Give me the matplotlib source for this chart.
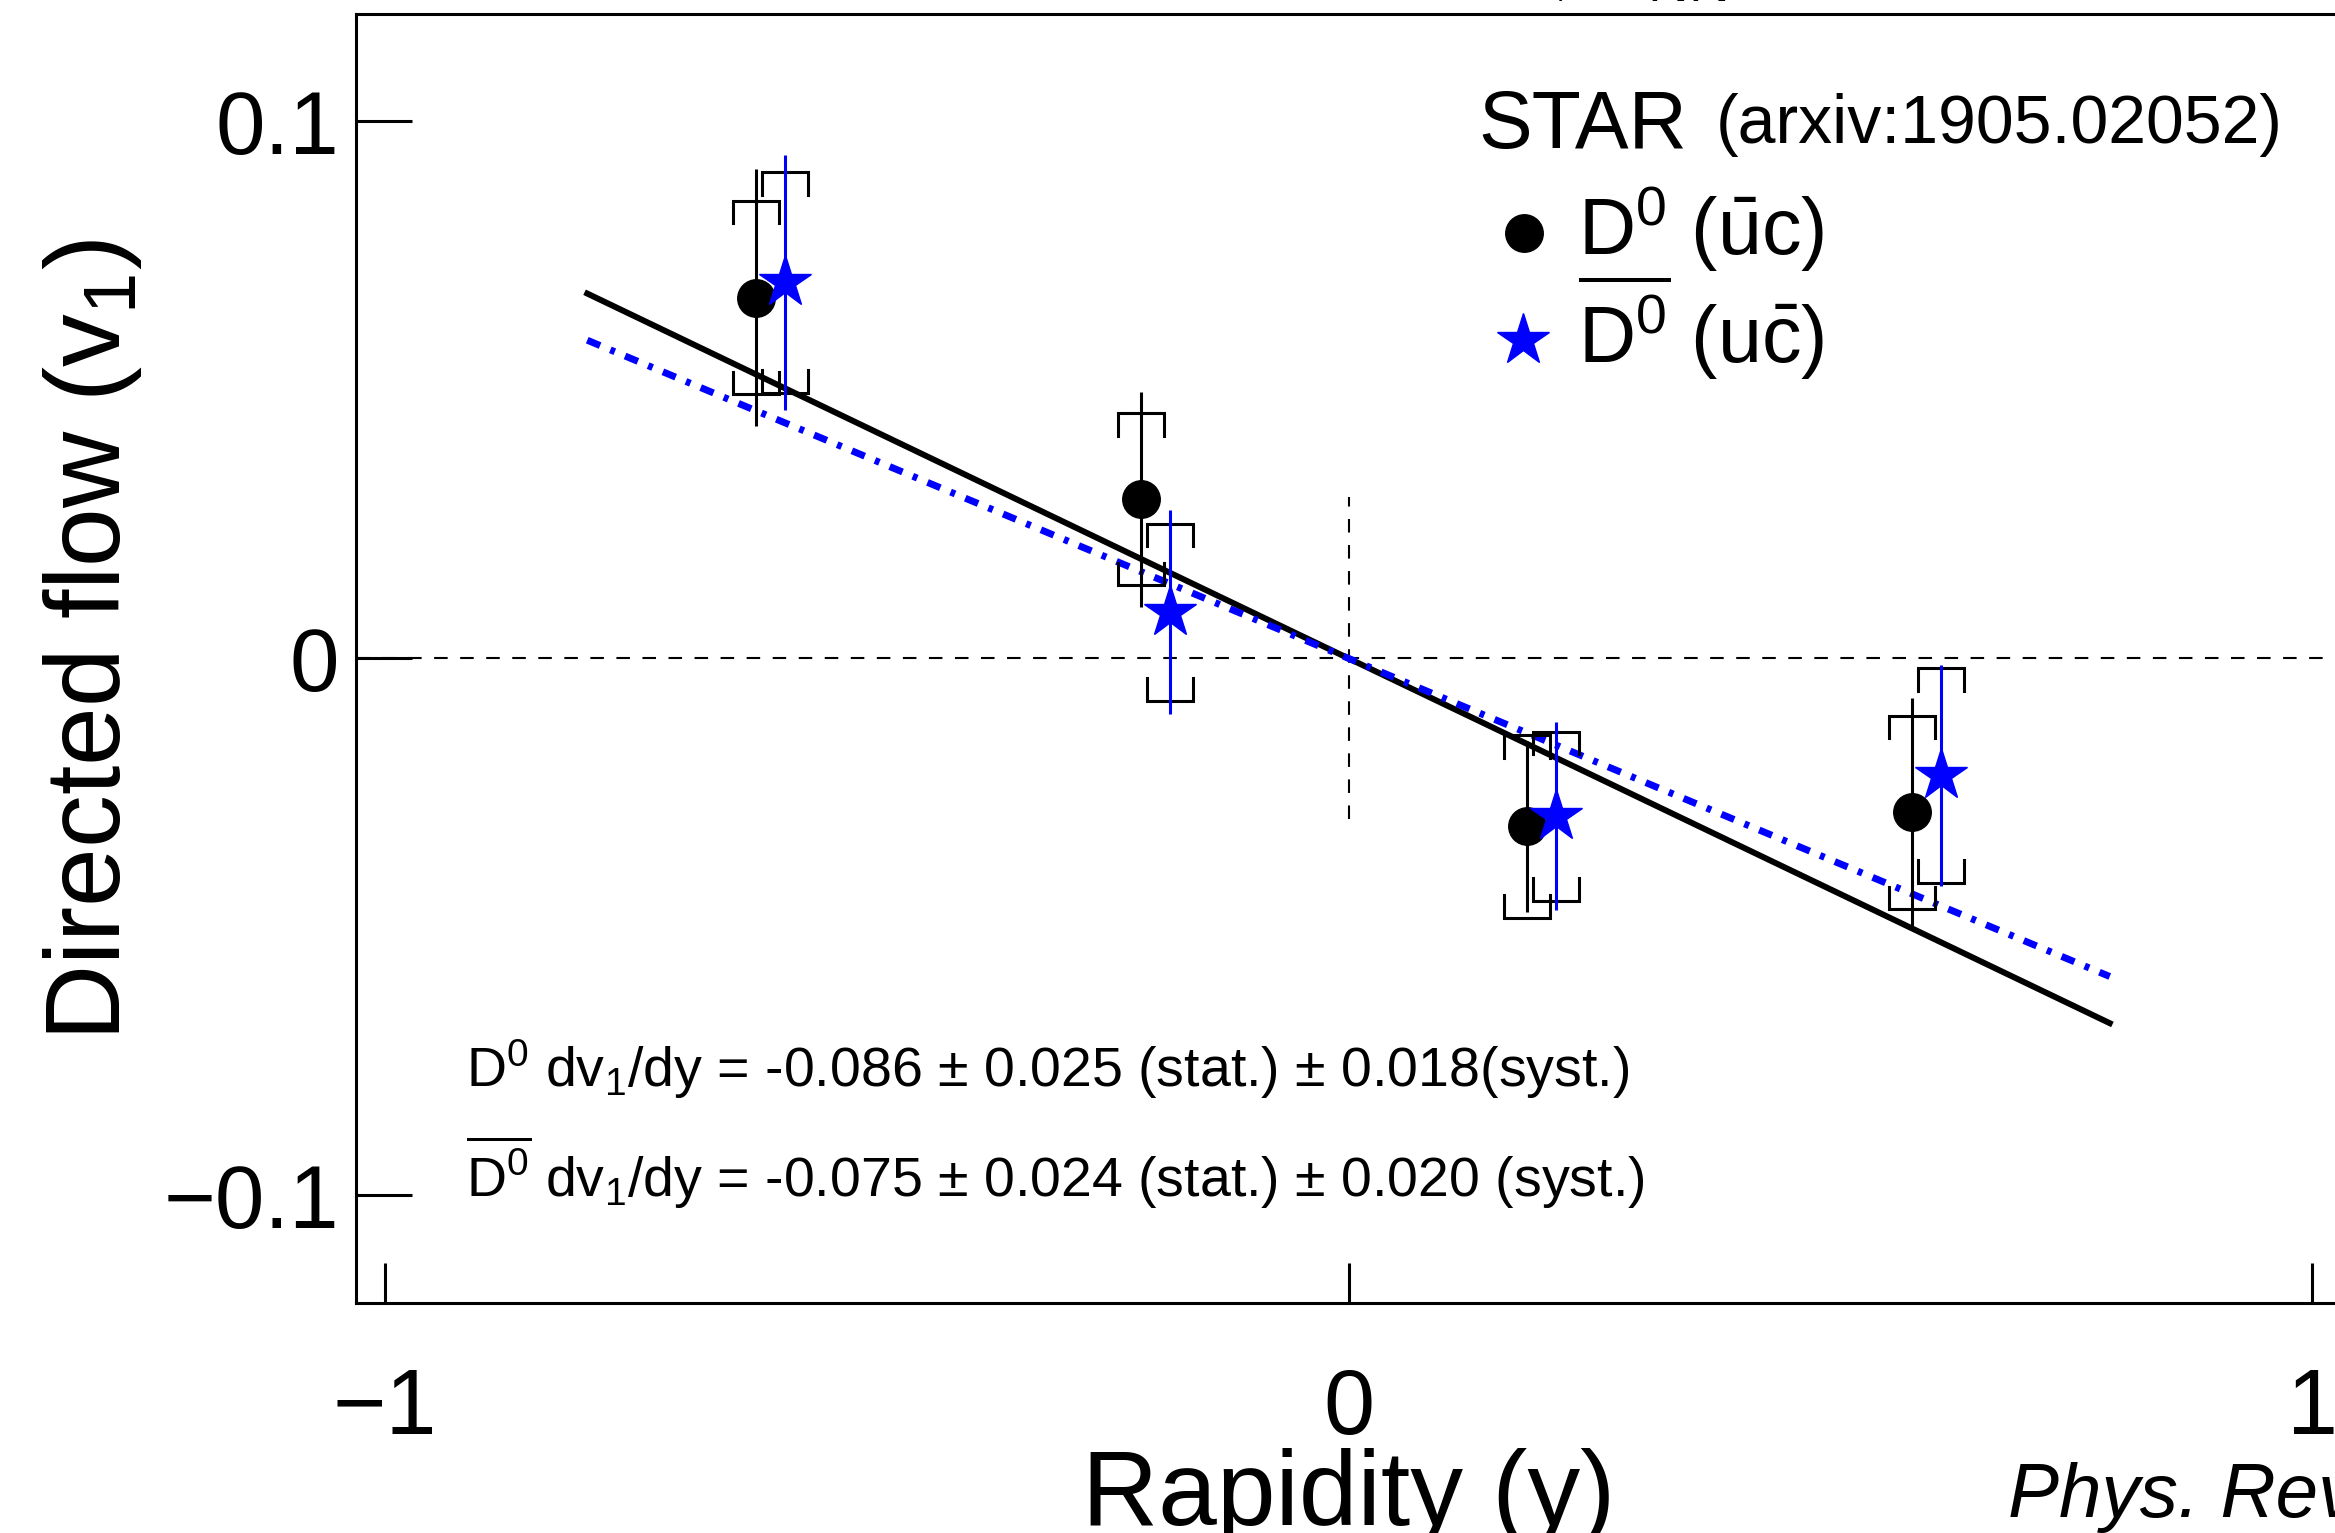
import numpy as np
import matplotlib
matplotlib.use('Agg')
import matplotlib.pyplot as plt

# ── Data (STAR D0 / D0bar directed flow vs rapidity) ──────────────────────────
d0_y      = [-0.615, -0.215, 0.185, 0.585]
d0_v1     = [0.0672, 0.0296, -0.0313, -0.0287]
d0_stat   = [0.0240, 0.0200, 0.0160, 0.0213]
d0_syst   = [0.0180, 0.0160, 0.0170, 0.0180]

d0bar_y    = [-0.585, -0.185, 0.215, 0.615]
d0bar_v1   = [0.0700, 0.0086, -0.0294, -0.0218]
d0bar_stat = [0.0237, 0.0190, 0.0175, 0.0206]
d0bar_syst = [0.0205, 0.0165, 0.0157, 0.0200]

fit_range   = [-0.79, 0.79]
d0_slope    = -0.086
d0bar_slope = -0.075

vline_range = [-0.03, 0.03]

xticks       = [-1, 0, 1]
xtick_labels = ['\u22121', '0', '1']
yticks       = [-0.1, 0, 0.1]
ytick_labels = ['\u22120.1', '0', '0.1']

W, H = 2335, 1533

plt.rcParams['font.family'] = ['Liberation Sans', 'DejaVu Sans']
plt.rcParams['mathtext.fontset'] = 'custom'
plt.rcParams['mathtext.rm'] = 'Liberation Sans'
plt.rcParams['mathtext.it'] = 'Liberation Sans:italic'
plt.rcParams['mathtext.sf'] = 'Liberation Sans'


def px(x, y):
    """pixel position (from top-left) -> figure fraction"""
    return x / W, 1 - y / H


def draw_syst(ax, xs, ys, errs, half_w=0.024, leg=0.0042, color='black', lw=2.2):
    for x, y, e in zip(xs, ys, errs):
        hi, lo = y + e, y - e
        ax.plot([x - half_w, x - half_w, x + half_w, x + half_w],
                [hi - leg, hi, hi, hi - leg], color=color, lw=lw,
                solid_joinstyle='miter', zorder=3)
        ax.plot([x - half_w, x - half_w, x + half_w, x + half_w],
                [lo + leg, lo, lo, lo + leg], color=color, lw=lw,
                solid_joinstyle='miter', zorder=3)


fig = plt.figure(figsize=(W / 100, H / 100), dpi=100)
ax = fig.add_axes([356 / W, 1 - 1302.7 / H, (2341 - 356) / W, (1302.7 - 14) / H])

# reference lines
ax.axhline(0, color='black', lw=1.5, dashes=(6.5, 6.0), zorder=1)
ax.plot([0, 0], vline_range, color='black', lw=1.5, dashes=(6.5, 6.0), zorder=1)

# linear fits
fx = np.array(fit_range)
ax.plot(fx, d0_slope * fx, color='black', lw=4.3, zorder=2)
ax.plot(fx, d0bar_slope * fx, color='blue', lw=5.0,
        dashes=(2.0, 1.6, 0.7, 1.6), zorder=2)

# systematic brackets (black for both species)
draw_syst(ax, d0_y, d0_v1, d0_syst)
draw_syst(ax, d0bar_y, d0bar_v1, d0bar_syst)

# stat errors + markers
ax.errorbar(d0_y, d0_v1, yerr=d0_stat, fmt='o', color='black', ms=27,
            elinewidth=2.2, capsize=0, zorder=4)
ax.errorbar(d0bar_y, d0bar_v1, yerr=d0bar_stat, fmt='*', color='blue',
            mec='blue', ms=39, elinewidth=2.2, capsize=0, zorder=5)

ax.set_xlim(-1.03, 1.03)
ax.set_ylim(-0.12, 0.12)
ax.set_xticks(xticks)
ax.set_xticklabels(xtick_labels)
ax.set_yticks(yticks)
ax.set_yticklabels(ytick_labels)
ax.tick_params(axis='x', direction='in', length=29, width=2.2, labelsize=66, pad=46)
ax.tick_params(axis='y', direction='in', length=40, width=2.2, labelsize=64, pad=12)
ax.minorticks_off()
for s in ax.spines.values():
    s.set_linewidth(2.2)

ax.set_xlabel('Rapidity (y)', fontsize=76)
ax.xaxis.set_label_coords(0.5, -0.113)
ax.set_ylabel('Directed flow (v$_{1}$)', fontsize=76)
ax.yaxis.label.set_verticalalignment('center')
ax.yaxis.set_label_coords((92 - 356) / 1985, (1302.7 - 640) / 1288.7)

# legend (drawn by hand, ROOT style)
fig.text(*px(1478, 148), 'STAR', fontsize=58, va='baseline')
fig.text(*px(1716, 143), '(arxiv:1905.02052)', fontsize=49, va='baseline')
ax.plot(*px(1524, 233), 'o', color='black', ms=27, transform=fig.transFigure, clip_on=False)
fig.text(*px(1578, 255), r'$\mathrm{D}^{0}$ ($\bar{\mathrm{u}}$c)', fontsize=57, va='baseline')
ax.plot(*px(1523, 340), '*', color='blue', ms=39, transform=fig.transFigure, clip_on=False)
fig.text(*px(1578, 363), r'$\overline{\mathrm{D}^{0}}$ (u$\bar{\mathrm{c}}$)', fontsize=57, va='baseline')

# slope annotations
fig.text(*px(466, 1087),
         r'$\mathrm{D}^{0}$ dv$_{1}$/dy = -0.086 $\pm$ 0.025 (stat.) $\pm$ 0.018(syst.)',
         fontsize=40, va='baseline')
fig.text(*px(466, 1197),
         r'$\overline{\mathrm{D}^{0}}$ dv$_{1}$/dy = -0.075 $\pm$ 0.024 (stat.) $\pm$ 0.020 (syst.)',
         fontsize=40, va='baseline')

# title (cut off at the top) and journal reference (cut off at the bottom)
fig.text(*px(1530, 7), r'$\sqrt{s_{\mathrm{NN}}}$ = 200 GeV', fontsize=58, va='bottom')
fig.text(*px(2008, 1462), 'Phys. Rev. Lett. 123, 162301 (2019)', fontsize=55,
         style='italic', va='top')

fig.savefig('out.png', dpi=100)
